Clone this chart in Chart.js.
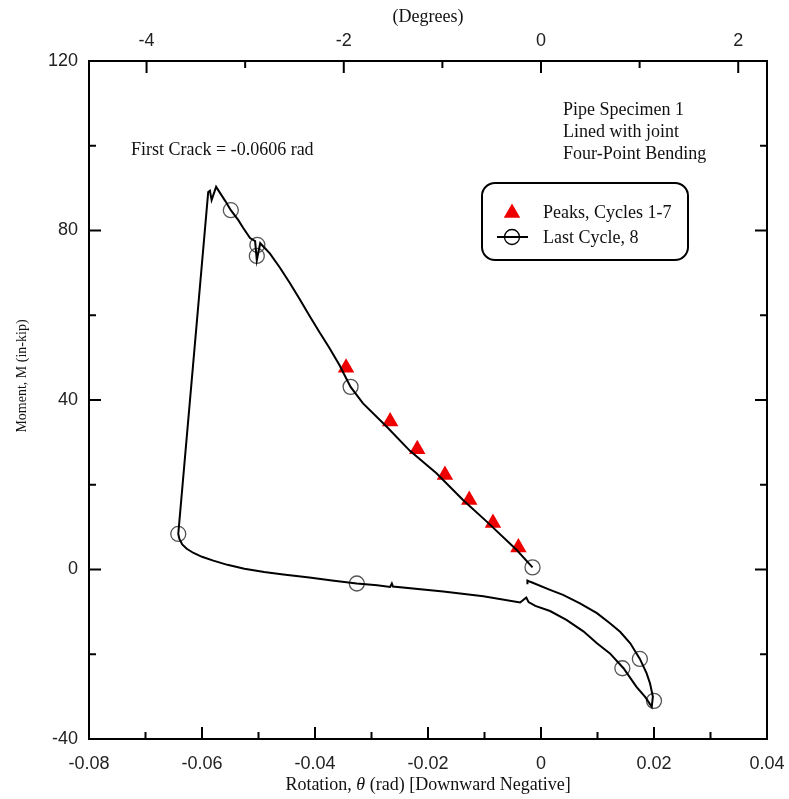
<!DOCTYPE html>
<html>
<head>
<meta charset="utf-8">
<title>Pipe Specimen 1 - Moment x Rotation</title>
<script src="https://cdn.jsdelivr.net/npm/chart.js@4.4.1/dist/chart.umd.min.js"></script>
<style>
  html, body { margin: 0; padding: 0; background: #fff; }
  #wrap { width: 789px; height: 799px; }
</style>
</head>
<body>
<div id="wrap"><canvas id="grafico" width="789" height="799"></canvas></div>
<script>
// Curva completa momento x rotação (rad, in-kip)
const curvaRot = [
  -0.0015, -0.0043, -0.0096, -0.0138, -0.0185, -0.0232, -0.0273, -0.0315, -0.0337, -0.0357,
  -0.0375, -0.0392, -0.0409, -0.0427, -0.0444, -0.0462, -0.0480, -0.0497, -0.0503, -0.0506,
  -0.0515, -0.0527, -0.0536, -0.0549, -0.0559, -0.0575, -0.0583, -0.0586, -0.0589, -0.0642,
  -0.0640, -0.0635, -0.0627, -0.0615, -0.0600, -0.0580, -0.0555, -0.0525, -0.0490, -0.0456,
  -0.0410, -0.0370, -0.0326, -0.0290, -0.0267, -0.0264, -0.0262, -0.0173, -0.0102, -0.0037,
  -0.0026, -0.0022, -0.0010, 0.0016, 0.0045, 0.0075, 0.0099, 0.0122, 0.0146, 0.0169,
  0.0185, 0.0196,
  0.0198, 0.0193, 0.0187, 0.0175, 0.0158, 0.0140, 0.0122, 0.0099, 0.0069, 0.0039,
  0.0016, -0.0019, -0.0024, -0.0024
];
const curvaMom = [
  0.5, 4.6, 11.3, 16.4, 22.7, 28.0, 33.7, 39.2, 43.1, 48.3,
  52.4, 56.0, 59.7, 63.8, 67.5, 71.2, 74.6, 77.0, 73.0, 77.5,
  78.2, 80.6, 82.5, 84.8, 87.0, 90.3, 87.2, 89.4, 89.1, 8.4,
  7.2, 5.9, 4.9, 3.9, 3.0, 2.1, 1.1, 0.2, -0.6, -1.2,
  -1.9, -2.6, -3.3, -3.7, -4.1, -3.3, -4.0, -5.2, -6.3, -7.8,
  -6.6, -7.7, -8.6, -9.8, -11.9, -14.6, -17.4, -19.8, -23.3, -27.7,
  -30.2, -32.4,
  -30.0, -26.9, -24.5, -21.1, -17.4, -14.7, -12.7, -10.3, -8.0, -6.0,
  -4.8, -2.9, -2.6, -3.5
];

// Marcadores do último ciclo (8)
const ultimoRot = [-0.0015, -0.0337, -0.0549, -0.0502, -0.0503, -0.0642, -0.0326, 0.0144, 0.0175, 0.0200];
const ultimoMom = [0.5, 43.1, 84.8, 76.6, 74.0, 8.4, -3.3, -23.3, -21.1, -31.0];

// Picos dos ciclos 1-7
const picosRot = [-0.0345, -0.0267, -0.0219, -0.0170, -0.0127, -0.0085, -0.0040];
const picosMom = [47.6, 34.9, 28.4, 22.3, 16.4, 11.0, 5.2];

// Eixos
const xMin = -0.08, xMax = 0.04;
const yMin = -40, yMax = 120;
const xTicks = [-0.08, -0.06, -0.04, -0.02, 0, 0.02, 0.04];
const xMinor = [-0.07, -0.05, -0.03, -0.01, 0.01, 0.03];
const yTicks = [-40, 0, 40, 80, 120];
const yMinor = [-20, 20, 60, 100];
const grausTicks = [-4, -2, 0, 2];
const grausMinor = [-3, -1, 1];

const toPontos = (xs, ys) => xs.map((v, i) => ({ x: v, y: ys[i] }));

const fonteNum = { family: '"Liberation Sans", Arial, sans-serif', size: 18 };
const serif = '"Liberation Serif", "Times New Roman", serif';
const semTicks = { display: false, drawTicks: false, tickLength: 0 };

// Ticks para dentro + textos + legenda
const extras = {
  id: 'extras',
  afterDraw(chart) {
    const ctx = chart.ctx;
    const area = chart.chartArea;
    const { x, x2, y, y2 } = chart.scales;
    ctx.save();
    ctx.strokeStyle = '#000';
    ctx.lineWidth = 2;

    const tickH = (scale, valores, len, topo) => {
      valores.forEach(v => {
        const px = scale.getPixelForValue(v);
        ctx.beginPath();
        if (topo) { ctx.moveTo(px, area.top); ctx.lineTo(px, area.top + len); }
        else { ctx.moveTo(px, area.bottom); ctx.lineTo(px, area.bottom - len); }
        ctx.stroke();
      });
    };
    const tickV = (scale, valores, len, direita) => {
      valores.forEach(v => {
        const py = scale.getPixelForValue(v);
        ctx.beginPath();
        if (direita) { ctx.moveTo(area.right, py); ctx.lineTo(area.right - len, py); }
        else { ctx.moveTo(area.left, py); ctx.lineTo(area.left + len, py); }
        ctx.stroke();
      });
    };
    tickH(x, xTicks, 12, false);
    tickH(x, xMinor, 7, false);
    tickH(x2, grausTicks, 12, true);
    tickH(x2, grausMinor, 7, true);
    tickV(y, yTicks, 12, false);
    tickV(y, yMinor, 7, false);
    tickV(y2, yTicks, 12, true);
    tickV(y2, yMinor, 7, true);

    // textos
    ctx.fillStyle = '#111';
    ctx.textBaseline = 'middle';
    ctx.font = '18px ' + serif;
    ctx.textAlign = 'center';
    ctx.fillText('(Degrees)', (area.left + area.right) / 2, 17);

    ctx.textAlign = 'left';
    ctx.fillText('First Crack = -0.0606 rad', 131, 150);
    ctx.fillText('Pipe Specimen 1', 563, 110);
    ctx.fillText('Lined with joint', 563, 132);
    ctx.fillText('Four-Point Bending', 563, 154);

    // título eixo x com theta em itálico
    const p1 = 'Rotation, ', p2 = '\u03B8', p3 = ' (rad) [Downward Negative]';
    ctx.font = '18px ' + serif;
    const w1 = ctx.measureText(p1).width, w3 = ctx.measureText(p3).width;
    ctx.font = 'italic 18px ' + serif;
    const w2 = ctx.measureText(p2).width;
    let cx = (area.left + area.right) / 2 - (w1 + w2 + w3) / 2;
    ctx.font = '18px ' + serif;
    ctx.fillText(p1, cx, 785);
    ctx.font = 'italic 18px ' + serif;
    ctx.fillText(p2, cx + w1, 785);
    ctx.font = '18px ' + serif;
    ctx.fillText(p3, cx + w1 + w2, 785);

    // título eixo y
    ctx.save();
    ctx.translate(22, 376);
    ctx.rotate(-Math.PI / 2);
    ctx.textAlign = 'center';
    ctx.font = '14px ' + serif;
    ctx.fillText('Moment, M (in-kip)', 0, 0);
    ctx.restore();

    // legenda com cantos arredondados
    const lx = 482, ly = 183, lw = 206, lh = 77, r = 13;
    ctx.beginPath();
    ctx.moveTo(lx + r, ly);
    ctx.arcTo(lx + lw, ly, lx + lw, ly + lh, r);
    ctx.arcTo(lx + lw, ly + lh, lx, ly + lh, r);
    ctx.arcTo(lx, ly + lh, lx, ly, r);
    ctx.arcTo(lx, ly, lx + lw, ly, r);
    ctx.closePath();
    ctx.lineWidth = 2;
    ctx.strokeStyle = '#000';
    ctx.stroke();

    // item triângulo
    const tr = 9.5, tx = 512, ty = 213;
    ctx.beginPath();
    ctx.moveTo(tx, ty - tr);
    ctx.lineTo(tx + tr * Math.sin(2 * Math.PI / 3), ty - tr * Math.cos(2 * Math.PI / 3));
    ctx.lineTo(tx + tr * Math.sin(4 * Math.PI / 3), ty - tr * Math.cos(4 * Math.PI / 3));
    ctx.closePath();
    ctx.fillStyle = '#ee0000';
    ctx.fill();

    // item linha + círculo
    ctx.beginPath();
    ctx.moveTo(497, 237); ctx.lineTo(528, 237);
    ctx.lineWidth = 2; ctx.strokeStyle = '#000';
    ctx.stroke();
    ctx.beginPath();
    ctx.arc(512, 237, 7.5, 0, Math.PI * 2);
    ctx.lineWidth = 1.3;
    ctx.stroke();

    ctx.fillStyle = '#111';
    ctx.font = '18px ' + serif;
    ctx.textAlign = 'left';
    ctx.fillText('Peaks, Cycles 1-7', 543, 213);
    ctx.fillText('Last Cycle, 8', 543, 238);
    ctx.restore();
  }
};

const ctx = document.getElementById('grafico').getContext('2d');
new Chart(ctx, {
  type: 'scatter',
  data: {
    datasets: [
      {
        label: 'Curva',
        data: toPontos(curvaRot, curvaMom),
        showLine: true,
        borderColor: '#000',
        borderWidth: 2,
        pointRadius: 0,
        tension: 0
      },
      {
        label: 'Last Cycle, 8',
        data: toPontos(ultimoRot, ultimoMom),
        pointStyle: 'circle',
        pointRadius: 7.5,
        pointBorderWidth: 1.3,
        pointBorderColor: '#555',
        pointBackgroundColor: 'rgba(0,0,0,0)'
      },
      {
        label: 'Peaks, Cycles 1-7',
        data: toPontos(picosRot, picosMom),
        pointStyle: 'triangle',
        pointRadius: 9.5,
        pointBorderWidth: 0,
        pointBackgroundColor: '#ee0000',
        pointBorderColor: '#ee0000'
      }
    ]
  },
  options: {
    responsive: false,
    animation: false,
    layout: { padding: 0 },
    plugins: {
      legend: { display: false },
      tooltip: { enabled: false }
    },
    scales: {
      x: {
        type: 'linear',
        position: 'bottom',
        min: xMin, max: xMax,
        grid: semTicks,
        border: { display: true, color: '#000', width: 2 },
        afterBuildTicks: s => { s.ticks = xTicks.map(v => ({ value: v })); },
        afterFit: s => { s.height = 60; s.paddingLeft = 0; s.paddingRight = 0; },
        ticks: {
          font: fonteNum, color: '#222', padding: 14, maxRotation: 0,
          callback: v => v === 0 ? '0' : v.toFixed(2)
        }
      },
      x2: {
        type: 'linear',
        axis: 'x',
        position: 'top',
        min: xMin * 180 / Math.PI, max: xMax * 180 / Math.PI,
        grid: semTicks,
        border: { display: true, color: '#000', width: 2 },
        afterBuildTicks: s => { s.ticks = grausTicks.map(v => ({ value: v })); },
        afterFit: s => { s.height = 61; s.paddingLeft = 0; s.paddingRight = 0; },
        ticks: { font: fonteNum, color: '#222', padding: 9, maxRotation: 0, callback: v => String(v) }
      },
      y: {
        type: 'linear',
        position: 'left',
        min: yMin, max: yMax,
        grid: semTicks,
        border: { display: true, color: '#000', width: 2 },
        afterBuildTicks: s => { s.ticks = yTicks.map(v => ({ value: v })); },
        afterFit: s => { s.width = 89; s.paddingTop = 0; s.paddingBottom = 0; },
        ticks: { font: fonteNum, color: '#222', padding: 11, callback: v => String(v) }
      },
      y2: {
        type: 'linear',
        axis: 'y',
        position: 'right',
        min: yMin, max: yMax,
        grid: semTicks,
        border: { display: true, color: '#000', width: 2 },
        afterFit: s => { s.width = 22; },
        ticks: { display: false }
      }
    }
  },
  plugins: [extras]
});
</script>
</body>
</html>
